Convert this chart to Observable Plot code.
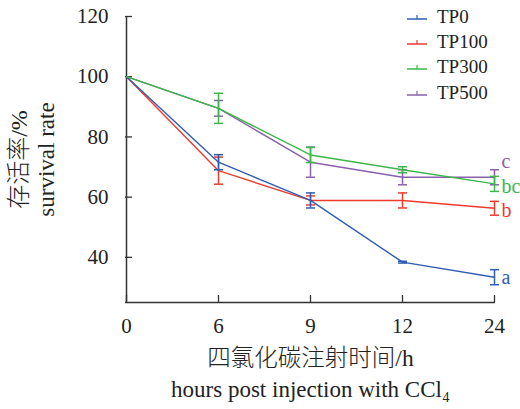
<!DOCTYPE html>
<html><head><meta charset="utf-8">
<script src="https://cdn.jsdelivr.net/npm/d3@7"></script>
<script src="https://cdn.jsdelivr.net/npm/@observablehq/plot@0.6"></script>
<style>
body{margin:0;background:#fff}
#wrap{position:relative;width:520px;height:409px}
#legend{position:absolute;left:406px;top:4px;font-family:"Liberation Serif","Times New Roman",serif;font-size:19px;color:#222}
.row{display:flex;align-items:center;height:25.3px}
.row svg{margin-right:9px}
</style></head><body><div id="wrap"><div id="legend"></div></div>
<script>
const times = ["0","6","9","12","24"];
const seriesNames = ["TP0","TP100","TP300","TP500"];
const seriesColors = ["#2f5db3","#ee3b2c","#3db649","#8a5fab"];
const tp0 = [100, 71.6, 58.9, 38.4, 33.4];
const tp0Err = [0, 2.5, 2.5, 0.3, 2.5];
const tp100 = [100, 68.8, 58.9, 58.9, 56.3];
const tp100Err = [0, 4.5, 1.5, 2.5, 2.3];
const tp300 = [100, 89.5, 74.0, 69.1, 64.4];
const tp300Err = [0, 5.0, 2.5, 1.0, 2.5];
const tp500 = [100, 89.5, 71.6, 66.6, 66.6];
const tp500Err = [0, 2.6, 5.0, 2.5, 2.5];
const sigLetters = ["a","b","bc","c"];
const yTicks = [40,60,80,100,120];
const yDomain = [25,120];
const xTitleZh = "四氯化碳注射时间/h";
const xTitleEn = "hours post injection with CCl₄";
const yTitleZh = "存活率/%";
const yTitleEn = "survival rate";

const values = [tp0, tp100, tp300, tp500];
const errs = [tp0Err, tp100Err, tp300Err, tp500Err];
const series = seriesNames.map((name, i) => ({
  name, color: seriesColors[i], letter: sigLetters[i],
  rows: times.map((t, j) => ({series: name, time: t, value: values[i][j], err: errs[i][j]}))
}));

const cap = {draw(ctx){ ctx.moveTo(-4.5,0); ctx.lineTo(4.5,0); }};
const serif = "'Liberation Serif', 'Times New Roman', serif";
const mixed = "'Liberation Serif', 'Noto Sans CJK SC', serif";
const letterDy = [0, 2, 3, -16];
const drawOrder = [1, 0, 3, 2];

const marks = [
  Plot.ruleX([times[0]], {stroke: "#333", strokeWidth: 1.5}),
  Plot.ruleY([yDomain[0]], {stroke: "#333", strokeWidth: 1.5}),
  Plot.axisY(yTicks, {tickSize: 7, dx: 7, tickFormat: () => "", stroke: "#333", strokeWidth: 1.3, label: null}),
  Plot.axisY(yTicks, {tickSize: 0, tickPadding: 17, label: null, fontSize: 21, fontFamily: serif, fill: "#222"}),
  Plot.axisX(times, {tickSize: 7, dy: -7, tickFormat: () => "", stroke: "#333", strokeWidth: 1.3, label: null}),
  Plot.axisX(times, {tickSize: 0, tickPadding: 16, label: null, fontSize: 21, fontFamily: serif, fill: "#222"}),
];
for (const i of drawOrder) {
  const s = series[i];
  const withErr = s.rows.filter(d => d.err > 0);
  marks.push(
    Plot.line(s.rows, {x: "time", y: "value", stroke: s.color, strokeWidth: 1.4}),
    Plot.ruleX(withErr, {x: "time", y1: d => d.value - d.err, y2: d => d.value + d.err, stroke: s.color, strokeWidth: 1.5}),
    Plot.dot(withErr, {x: "time", y: d => d.value + d.err, symbol: cap, stroke: s.color, strokeWidth: 1.5, r: 4}),
    Plot.dot(withErr, {x: "time", y: d => d.value - d.err, symbol: cap, stroke: s.color, strokeWidth: 1.5, r: 4}),
    Plot.text([s.rows[s.rows.length - 1]], {x: "time", y: "value", text: () => s.letter, fill: s.color, textAnchor: "start", dx: 7, dy: letterDy[i], fontSize: 20, fontFamily: serif})
  );
}
marks.push(
  Plot.text([xTitleZh], {frameAnchor: "bottom", textAnchor: "middle", dy: 63, text: d => d, fontSize: 23.5, fontWeight: 300, fontFamily: mixed, fill: "#222"}),
  Plot.text([xTitleEn], {frameAnchor: "bottom", textAnchor: "middle", dy: 94, text: d => d, fontSize: 23, fontFamily: serif, fill: "#222"}),
  Plot.text([yTitleZh], {frameAnchor: "left", textAnchor: "middle", dx: -106, rotate: -90, text: d => d, fontSize: 24, fontWeight: 300, fontFamily: mixed, fill: "#222"}),
  Plot.text([yTitleEn], {frameAnchor: "left", textAnchor: "middle", dx: -79, rotate: -90, text: d => d, fontSize: 23, fontFamily: serif, fill: "#222"})
);

const chart = Plot.plot({
  width: 520, height: 409,
  marginLeft: 125, marginRight: 25, marginTop: 16, marginBottom: 107,
  style: {fontFamily: serif, background: "#fff"},
  x: {type: "point", domain: times, padding: 0, axis: null},
  y: {domain: yDomain, axis: null},
  marks
});
document.getElementById("wrap").prepend(chart);

const legend = d3.select("#legend");
series.forEach(s => {
  const row = legend.append("div").attr("class", "row");
  const sv = row.append("svg").attr("width", 22).attr("height", 10);
  sv.append("line").attr("x1", 1).attr("x2", 21).attr("y1", 7).attr("y2", 7).attr("stroke", s.color).attr("stroke-width", 1.5);
  sv.append("line").attr("x1", 11).attr("x2", 11).attr("y1", 3).attr("y2", 7).attr("stroke", s.color).attr("stroke-width", 1.2);
  row.append("span").text(s.name);
});
</script></body></html>
